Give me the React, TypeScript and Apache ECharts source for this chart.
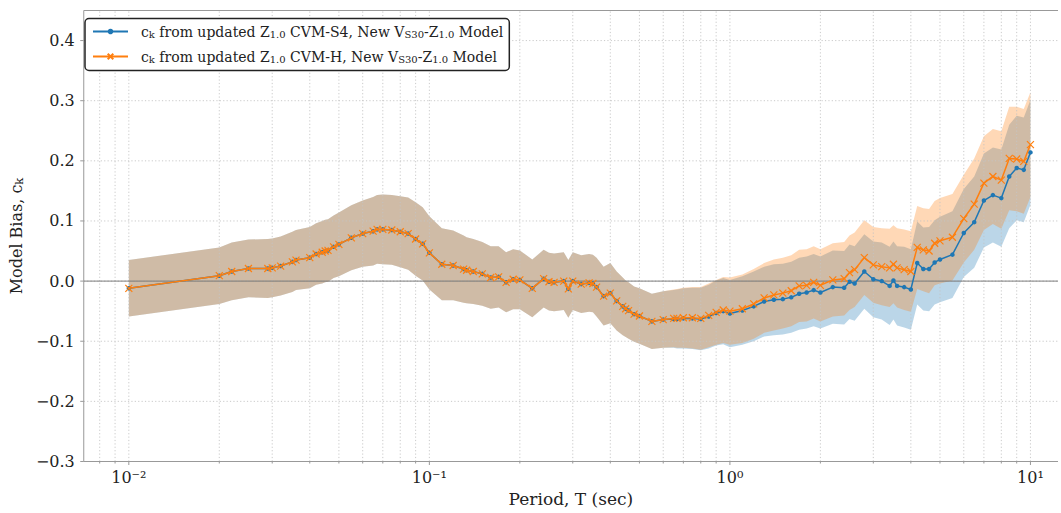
import React, { useEffect, useRef } from "react";
import * as echarts from "echarts";

// Periods (sec)
const periods = [
  0.01, 0.02, 0.022, 0.025, 0.029, 0.03, 0.032, 0.035, 0.036, 0.04,
  0.042, 0.044, 0.045, 0.046, 0.048, 0.05, 0.055, 0.06, 0.065, 0.067,
  0.07, 0.075, 0.08, 0.085, 0.09, 0.095, 0.1, 0.11, 0.12, 0.13,
  0.133, 0.14, 0.15, 0.16, 0.17, 0.18, 0.19, 0.2, 0.22, 0.24,
  0.25, 0.26, 0.28, 0.29, 0.3, 0.32, 0.34, 0.35, 0.36, 0.38,
  0.4, 0.42, 0.44, 0.45, 0.46, 0.48, 0.5, 0.55, 0.6, 0.65,
  0.667, 0.7, 0.75, 0.8, 0.85, 0.9, 0.95, 1, 1.1, 1.2,
  1.3, 1.4, 1.5, 1.6, 1.7, 1.8, 1.9, 2, 2.2, 2.4,
  2.5, 2.6, 2.8, 3, 3.2, 3.4, 3.5, 3.6, 3.8, 4,
  4.2, 4.4, 4.6, 4.8, 5, 5.5, 6, 6.5, 7, 7.5,
  8, 8.5, 9, 9.5, 10,
];

// c_k from updated Z1.0 CVM-H
const biasH = [
  -0.012, 0.009, 0.016, 0.021, 0.021, 0.022, 0.025, 0.032, 0.035, 0.039,
  0.045, 0.048, 0.050, 0.051, 0.057, 0.061, 0.072, 0.079, 0.083, 0.086,
  0.086, 0.085, 0.082, 0.079, 0.070, 0.062, 0.047, 0.028, 0.026, 0.020,
  0.018, 0.016, 0.012, 0.006, 0.007, -0.002, 0.003, 0.002, -0.012, 0.004,
  -0.001, -0.002, 0.000, -0.013, 0.000, -0.005, -0.003, -0.004, -0.010, -0.025,
  -0.020, -0.033, -0.042, -0.046, -0.049, -0.055, -0.058, -0.067, -0.064, -0.062,
  -0.062, -0.061, -0.061, -0.062, -0.057, -0.052, -0.048, -0.050, -0.046, -0.038,
  -0.028, -0.023, -0.020, -0.016, -0.008, -0.007, -0.002, -0.007, 0.002, 0.004,
  0.014, 0.019, 0.039, 0.027, 0.024, 0.022, 0.028, 0.022, 0.019, 0.016,
  0.056, 0.052, 0.050, 0.063, 0.067, 0.073, 0.104, 0.128, 0.163, 0.174,
  0.168, 0.204, 0.203, 0.199, 0.227,
];

// c_k from updated Z1.0 CVM-S4
const biasS4 = [
  -0.012, 0.009, 0.016, 0.021, 0.021, 0.022, 0.025, 0.032, 0.035, 0.039,
  0.045, 0.048, 0.050, 0.051, 0.057, 0.061, 0.072, 0.079, 0.083, 0.086,
  0.086, 0.085, 0.082, 0.079, 0.070, 0.062, 0.047, 0.028, 0.026, 0.020,
  0.018, 0.016, 0.012, 0.006, 0.007, -0.002, 0.003, 0.002, -0.012, 0.004,
  -0.001, -0.002, 0.000, -0.013, 0.000, -0.005, -0.003, -0.004, -0.010, -0.025,
  -0.020, -0.033, -0.042, -0.046, -0.049, -0.055, -0.058, -0.067, -0.064, -0.063,
  -0.063, -0.062, -0.062, -0.063, -0.059, -0.053, -0.050, -0.054, -0.049, -0.042,
  -0.034, -0.031, -0.030, -0.027, -0.021, -0.019, -0.015, -0.019, -0.010, -0.011,
  -0.001, -0.004, 0.016, 0.003, 0.000, -0.008, 0.001, -0.008, -0.010, -0.014,
  0.030, 0.020, 0.020, 0.031, 0.036, 0.044, 0.080, 0.098, 0.134, 0.143,
  0.138, 0.174, 0.188, 0.185, 0.214,
];

// half-width of the shaded band (± one standard deviation)
const sigma = [
  0.047, 0.047, 0.048, 0.048, 0.049, 0.049, 0.049, 0.050, 0.050, 0.051,
  0.051, 0.052, 0.052, 0.052, 0.052, 0.053, 0.054, 0.055, 0.057, 0.057,
  0.058, 0.058, 0.059, 0.060, 0.061, 0.061, 0.061, 0.060, 0.058, 0.056,
  0.055, 0.054, 0.053, 0.052, 0.051, 0.050, 0.050, 0.049, 0.048, 0.048,
  0.048, 0.048, 0.048, 0.048, 0.048, 0.048, 0.048, 0.048, 0.049, 0.049,
  0.050, 0.049, 0.048, 0.047, 0.047, 0.046, 0.046, 0.046, 0.047, 0.048,
  0.049, 0.050, 0.051, 0.052, 0.053, 0.054, 0.055, 0.056, 0.057, 0.058,
  0.058, 0.059, 0.059, 0.059, 0.060, 0.060, 0.060, 0.060, 0.061, 0.061,
  0.062, 0.062, 0.062, 0.063, 0.064, 0.065, 0.065, 0.066, 0.067, 0.067,
  0.069, 0.069, 0.070, 0.070, 0.071, 0.072, 0.073, 0.076, 0.078, 0.079,
  0.081, 0.086, 0.087, 0.087, 0.087,
];

const majorXTicks = [0.01, 0.1, 1, 10];
const minorXTicks = [
  0.008, 0.009,
  0.02, 0.03, 0.04, 0.05, 0.06, 0.07, 0.08, 0.09,
  0.2, 0.3, 0.4, 0.5, 0.6, 0.7, 0.8, 0.9,
  2, 3, 4, 5, 6, 7, 8, 9,
];
const yTicks = [-0.3, -0.2, -0.1, 0.0, 0.1, 0.2, 0.3, 0.4];

const X_MIN = 0.00708;
const X_MAX = 12.35;
const Y_MIN = -0.3;
const Y_MAX = 0.45;

const NAME_S4 = "S4";
const NAME_H = "H";
const BLUE = "#1f77b4";
const ORANGE = "#ff7f0e";
const FONT = "DejaVu Serif";
const TEXT = "#222";
const GRID = "#c4c4c4";
const SPINE = "#999";

const SUP: Record<string, string> = {
  "-": "\u207b", "0": "\u2070", "1": "\u00b9", "2": "\u00b2", "3": "\u00b3",
};

function bandSeries(name: string, mean: number[], fill: string) {
  return {
    type: "custom",
    name,
    z: 1,
    silent: true,
    clip: true,
    data: periods.map((t, i) => [t, mean[i]]),
    encode: { x: 0, y: 1 },
    renderItem: (params: any, api: any) => {
      if (params.dataIndex !== 0) return null;
      const upper = periods.map((t, i) => api.coord([t, mean[i] + sigma[i]]));
      const lower = periods.map((t, i) => api.coord([t, mean[i] - sigma[i]])).reverse();
      return {
        type: "polygon",
        shape: { points: upper.concat(lower) },
        style: { fill },
      };
    },
  };
}

function gridSeries() {
  return {
    type: "custom",
    name: "grid",
    z: 2,
    silent: true,
    clip: false,
    data: [[1, 0]],
    encode: { x: 0, y: 1 },
    renderItem: (params: any, api: any) => {
      const children: any[] = [];
      const dotted = { stroke: GRID, lineWidth: 0.9, lineDash: [1.2, 2.2], fill: null };
      const spine = { stroke: SPINE, lineWidth: 1, fill: null };
      const allX = majorXTicks.concat(minorXTicks);
      allX.forEach((v) => {
        const p0 = api.coord([v, Y_MIN]);
        const p1 = api.coord([v, Y_MAX]);
        children.push({ type: "line", shape: { x1: p0[0], y1: p0[1], x2: p1[0], y2: p1[1] }, style: dotted });
      });
      yTicks.forEach((v) => {
        const p0 = api.coord([X_MIN, v]);
        const p1 = api.coord([X_MAX, v]);
        children.push({ type: "line", shape: { x1: p0[0], y1: p0[1], x2: p1[0], y2: p1[1] }, style: dotted });
        children.push({ type: "line", shape: { x1: p0[0] - 3.5, y1: p0[1], x2: p0[0], y2: p0[1] }, style: spine });
      });
      majorXTicks.forEach((v) => {
        const p = api.coord([v, Y_MIN]);
        children.push({ type: "line", shape: { x1: p[0], y1: p[1], x2: p[0], y2: p[1] + 3.5 }, style: spine });
      });
      minorXTicks.forEach((v) => {
        const p = api.coord([v, Y_MIN]);
        children.push({ type: "line", shape: { x1: p[0], y1: p[1], x2: p[0], y2: p[1] + 2 }, style: spine });
      });
      const z0 = api.coord([X_MIN, 0]);
      const z1 = api.coord([X_MAX, 0]);
      children.push({
        type: "line",
        shape: { x1: z0[0], y1: z0[1], x2: z1[0], y2: z1[1] },
        style: { stroke: "rgba(110,110,110,0.7)", lineWidth: 1.2, fill: null },
      });
      // spines: left, bottom, top
      const bl = api.coord([X_MIN, Y_MIN]);
      const br = api.coord([X_MAX, Y_MIN]);
      const tl = api.coord([X_MIN, Y_MAX]);
      const tr = api.coord([X_MAX, Y_MAX]);
      children.push({ type: "line", shape: { x1: bl[0], y1: bl[1], x2: tl[0], y2: tl[1] }, style: spine });
      children.push({ type: "line", shape: { x1: bl[0], y1: bl[1], x2: br[0], y2: br[1] }, style: spine });
      children.push({ type: "line", shape: { x1: tl[0], y1: tl[1], x2: tr[0], y2: tr[1] }, style: spine });
      return { type: "group", children };
    },
  };
}

const tok = (size: number, extra: any = {}) => ({
  fontFamily: FONT,
  fontSize: size,
  color: TEXT,
  ...extra,
});

function legendLabel(name: string) {
  const model = name === NAME_S4 ? "CVM-S4" : "CVM-H";
  return (
    "{t0|c}{s|k}{t| from updated Z}{s|1.0}{t| " +
    model +
    ", New V}{s|S30}{t|-Z}{s|1.0}{t| Model}"
  );
}

export default function App() {
  const ref = useRef<HTMLDivElement>(null);
  useEffect(() => {
    const chart = echarts.init(ref.current!, null, { renderer: "svg" });
    const option: any = {
      animation: false,
      backgroundColor: "#fff",
      grid: {
        show: false,
        left: 77.5,
        top: 10.5,
        right: 0,
        height: 451,
      },
      legend: {
        data: [NAME_S4, NAME_H],
        orient: "vertical",
        left: 85,
        top: 18.5,
        padding: [6, 6, 6, 7],
        itemGap: 10,
        itemWidth: 35,
        itemHeight: 7,
        borderColor: "#222",
        borderWidth: 1.5,
        borderRadius: 4,
        backgroundColor: "#fff",
        selectedMode: false,
        formatter: legendLabel,
        textStyle: {
          fontFamily: FONT,
          fontSize: 14,
          color: TEXT,
          rich: {
            t0: tok(14, { lineHeight: 16, padding: [0, 0, 0, 8] }),
            t: tok(14, { lineHeight: 16 }),
            s: tok(10, { lineHeight: 10, verticalAlign: "bottom" }),
          },
        },
      },
      xAxis: {
        type: "log",
        logBase: 10,
        min: X_MIN,
        max: X_MAX,
        name: "Period, T (sec)",
        nameLocation: "middle",
        nameGap: 21,
        nameTextStyle: { fontFamily: FONT, fontSize: 17, color: TEXT },
        axisLine: { show: false, onZero: false },
        axisTick: { show: false },
        splitLine: { show: false },
        minorTick: { show: false },
        axisLabel: {
          margin: 8,
          fontFamily: FONT,
          fontSize: 16,
          color: TEXT,
          formatter: (v: number) => {
            const e = Math.log10(v);
            const r = Math.round(e);
            if (Math.abs(e - r) > 1e-6) return "";
            return "10" + String(r).split("").map((c) => SUP[c] || c).join("");
          },
        },
      },
      yAxis: {
        type: "value",
        min: Y_MIN,
        max: Y_MAX,
        interval: 0.1,
        name: "{a|Model Bias, c}{b|k}",
        nameLocation: "middle",
        nameGap: 47,
        nameTextStyle: {
          fontFamily: FONT,
          fontSize: 16,
          color: TEXT,
          rich: {
            a: tok(16, { lineHeight: 18 }),
            b: tok(11.5, { lineHeight: 10.5, verticalAlign: "bottom" }),
          },
        },
        axisLine: { show: false },
        axisTick: { show: false },
        splitLine: { show: false },
        axisLabel: {
          margin: 9,
          fontFamily: FONT,
          fontSize: 16,
          color: TEXT,
          formatter: (v: number) => {
            const k = Math.round(v * 10);
            if (Math.abs(v * 10 - k) > 1e-6) return "";
            if (k === 0) return "0.0";
            return (k < 0 ? "\u2212" : "") + (Math.abs(k) / 10).toFixed(1);
          },
        },
      },
      series: [
        bandSeries("bandS4", biasS4, "rgba(31,119,180,0.3)"),
        bandSeries("bandH", biasH, "rgba(255,127,14,0.3)"),
        gridSeries(),
        {
          type: "line",
          name: NAME_S4,
          z: 4,
          data: periods.map((t, i) => [t, biasS4[i]]),
          symbol: "circle",
          symbolSize: 4.5,
          showAllSymbol: true,
          lineStyle: { color: BLUE, width: 1.5 },
          itemStyle: { color: BLUE },
          emphasis: { disabled: true },
          silent: true,
        },
        {
          type: "line",
          name: NAME_H,
          z: 5,
          data: periods.map((t, i) => [t, biasH[i]]),
          symbol: "path://M0,0L10,10M10,0L0,10",
          symbolSize: 7,
          showAllSymbol: true,
          lineStyle: { color: ORANGE, width: 1.5 },
          itemStyle: { color: ORANGE, borderColor: ORANGE, borderWidth: 1.2 },
          emphasis: { disabled: true },
          silent: true,
        },
      ],
    };
    chart.setOption(option);
    return () => chart.dispose();
  }, []);
  return (
    <div
      ref={ref}
      style={{ position: "absolute", left: 0, top: 0, width: 1061, height: 513, background: "#fff" }}
    />
  );
}
